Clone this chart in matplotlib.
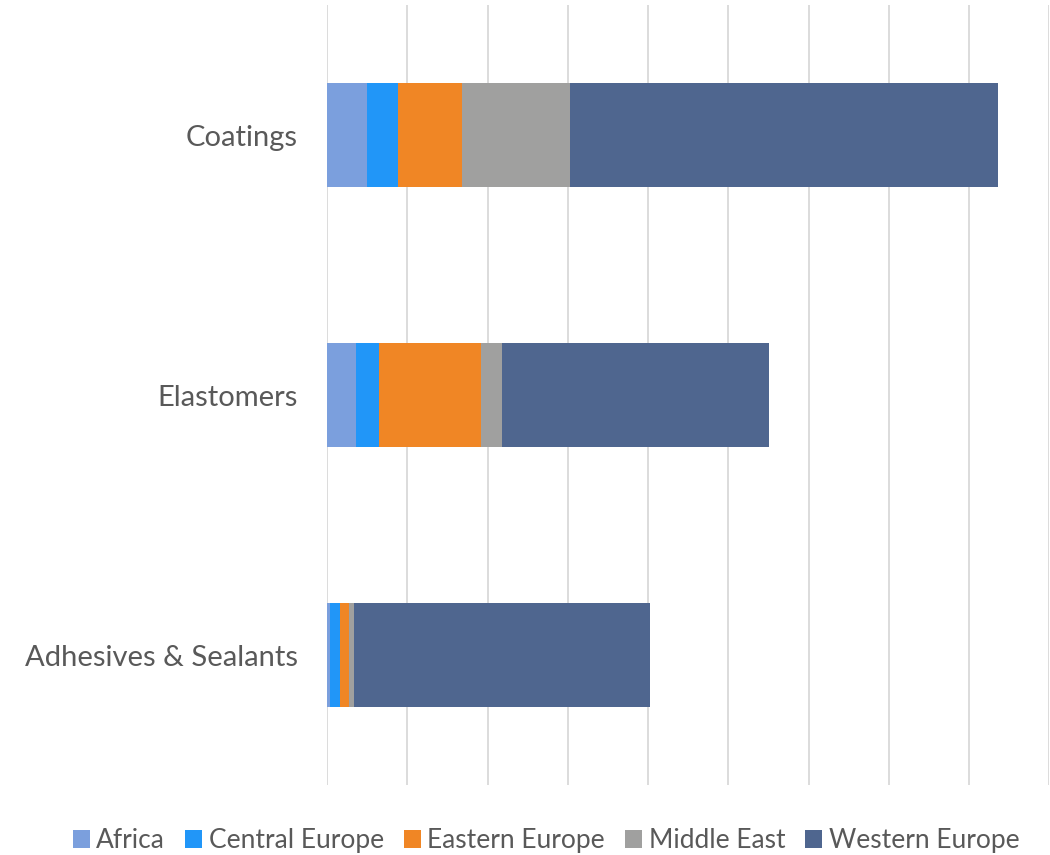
import matplotlib
matplotlib.use("Agg")
import matplotlib.pyplot as plt
import numpy as np

plt.rcParams['font.family'] = ['Lato', 'DejaVu Sans']

categories = ["Coatings", "Elastomers", "Adhesives & Sealants"]
regions = ["Africa", "Central Europe", "Eastern Europe", "Middle East", "Western Europe"]
values = {
    "Africa":         [5.0, 3.6, 0.4],
    "Central Europe": [3.8, 2.9, 1.2],
    "Eastern Europe": [8.0, 12.7, 1.1],
    "Middle East":    [13.5, 2.6, 0.7],
    "Western Europe": [53.3, 33.3, 36.9],
}
colors = ["#7B9FDD", "#2196F8", "#F08625", "#A0A09F", "#4F668F"]

fig = plt.figure(figsize=(10.5, 8.55), dpi=100)
ax = fig.add_axes([0.3114, 0.0819, 0.688, 0.912])

y = np.arange(len(categories))
left = np.zeros(len(categories))
for name, c in zip(regions, colors):
    v = np.array(values[name])
    ax.barh(y, v, left=left, height=0.4, color=c, label=name, zorder=3)
    left += v

ax.set_xlim(0, 90)
ax.set_ylim(2.5, -0.5)
ax.set_xticks(np.arange(0, 91, 10))
ax.set_xticklabels([])
ax.tick_params(axis='x', length=0)
ax.tick_params(axis='y', length=0, labelsize=21, labelcolor="#595959", pad=21)
ax.set_yticks(y)
ax.set_yticklabels(categories)
ax.grid(axis='x', color="#D9D9D9", linewidth=1.3, zorder=0)
for s in ax.spines.values():
    s.set_visible(False)

fig.legend(loc='center', bbox_to_anchor=(0.52, 0.017), ncol=5, frameon=False,
           fontsize=19, labelcolor="#595959", handlelength=0.65, handleheight=0.65,
           handletextpad=0.25, columnspacing=0.75)

fig.savefig("out.png", dpi=100)
